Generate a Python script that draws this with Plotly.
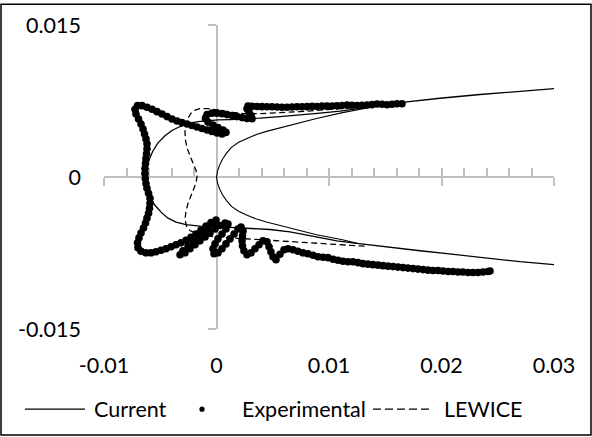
import plotly.graph_objects as go

# ---------------------------------------------------------------
# Ice-shape profiles, coordinates in millimetres (plotted in metres)
# ---------------------------------------------------------------

# "Current" prediction: iced contour, upper trailing end -> leading edge -> lower trailing end
current_mm = [
    (30.00, 8.72), (26.98, 8.47), (23.42, 8.14), (19.87, 7.77), (17.47, 7.52),
    (16.31, 7.33), (14.53, 7.04), (12.76, 6.74), (10.98, 6.50), (9.20, 6.30),
    (7.42, 6.11), (5.64, 5.96), (3.87, 5.81), (2.53, 5.72), (1.20, 5.67),
    (0.13, 5.64), (-0.76, 5.59), (-1.64, 5.47), (-2.44, 5.28), (-3.24, 4.98),
    (-3.96, 4.59), (-4.58, 4.06), (-5.20, 3.37), (-5.64, 2.59), (-5.96, 1.81),
    (-6.18, 1.12), (-6.31, 0.54), (-6.36, -0.05), (-6.31, -0.64), (-6.18, -1.32),
    (-5.91, -2.00), (-5.47, -2.79), (-4.93, -3.47), (-4.31, -4.06), (-3.60, -4.45),
    (-2.71, -4.69), (-1.47, -4.84), (-0.13, -4.89), (1.82, -4.98), (3.42, -5.08),
    (4.76, -5.18), (6.53, -5.42), (7.69, -5.67), (9.20, -6.01), (10.71, -6.30),
    (12.49, -6.55), (14.53, -6.84), (18.09, -7.28), (20.49, -7.57), (23.42, -7.96),
    (26.98, -8.36), (30.00, -8.65),
]

# Clean leading edge drawn with the same line style
clean_mm = [
    (14.67, 7.08), (12.89, 6.74), (11.20, 6.35), (8.89, 5.77), (7.11, 5.28),
    (5.60, 4.84), (4.44, 4.50), (3.56, 4.20), (2.67, 3.81), (1.96, 3.42),
    (1.33, 2.93), (0.89, 2.35), (0.53, 1.76), (0.27, 1.17), (0.09, 0.59),
    (0.00, 0.00),
    (0.09, -0.59), (0.27, -1.17), (0.53, -1.75), (0.89, -2.33), (1.33, -2.90),
    (1.96, -3.37), (2.67, -3.75), (3.56, -4.15), (4.44, -4.45), (5.60, -4.78),
    (7.11, -5.20), (8.89, -5.70), (11.20, -6.20), (12.49, -6.55),
]

# Measured ice tracing
experimental_mm = [
    # upper surface
    (16.49, 7.23), (16.04, 7.23), (15.60, 7.18), (15.16, 7.13), (14.71, 7.18),
    (14.27, 7.20), (13.82, 7.14), (13.38, 7.10), (12.93, 7.08), (12.49, 7.05),
    (12.04, 7.08), (11.60, 7.10), (11.16, 7.05), (10.71, 7.02), (10.27, 7.00),
    (9.82, 6.99), (9.38, 6.99), (8.93, 6.96), (8.49, 6.97), (8.04, 6.94),
    (7.60, 6.93), (7.16, 6.93), (6.71, 6.91), (6.27, 6.89), (5.82, 6.89),
    (5.38, 6.91), (4.93, 6.93), (4.49, 6.93), (4.04, 6.94), (3.60, 6.96),
    (3.16, 6.97), (2.80, 6.99),
    # upper feather
    (2.71, 6.73), (2.89, 6.40), (3.07, 6.06), (3.16, 5.75), (2.71, 5.77),
    (2.27, 5.86), (1.82, 5.96), (1.38, 6.06), (0.93, 6.16), (0.49, 6.25),
    (0.04, 6.30), (-0.40, 6.30), (-0.84, 6.16), (-0.98, 5.81), (-0.76, 5.42),
    (-0.31, 5.13), (0.13, 4.89), (0.58, 4.64), (0.84, 4.40), (0.49, 4.25),
    (0.04, 4.35), (-0.40, 4.50), (-0.84, 4.64), (-1.29, 4.79), (-1.73, 4.93),
    (-2.18, 5.08), (-2.62, 5.23), (-3.07, 5.37), (-3.51, 5.52), (-3.96, 5.72),
    (-4.40, 5.96), (-4.84, 6.21), (-5.29, 6.45), (-5.73, 6.69), (-6.18, 6.89),
    (-6.62, 7.04), (-7.02, 7.04),
    # upper horn and leading edge
    (-7.24, 6.69), (-7.16, 6.21), (-6.93, 5.72), (-6.71, 5.23), (-6.53, 4.74),
    (-6.40, 4.25), (-6.27, 3.76), (-6.18, 3.27), (-6.18, 2.79), (-6.22, 2.30),
    (-6.27, 1.81), (-6.31, 1.32), (-6.36, 0.83), (-6.36, 0.34), (-6.33, -0.15),
    (-6.27, -0.64), (-6.18, -1.12), (-6.04, -1.61), (-5.91, -2.10), (-5.91, -2.59),
    (-5.96, -3.08), (-6.04, -3.57), (-6.18, -4.06), (-6.31, -4.54), (-6.49, -5.03),
    (-6.71, -5.52), (-6.89, -6.01), (-7.02, -6.50), (-6.98, -6.99), (-6.71, -7.33),
    # lower horn and feathers
    (-6.27, -7.48), (-5.82, -7.48), (-5.38, -7.38), (-4.93, -7.23), (-4.49, -7.08),
    (-4.04, -6.89), (-3.60, -6.69), (-3.16, -6.50), (-2.71, -6.25), (-2.27, -5.96),
    (-1.82, -5.62), (-1.38, -5.23), (-0.93, -4.84), (-0.49, -4.50), (-0.04, -4.25),
    (-0.31, -4.64), (-0.76, -5.08), (-1.20, -5.52), (-1.64, -5.96), (-2.09, -6.40),
    (-2.53, -6.84), (-2.98, -7.28), (-3.24, -7.67), (-2.80, -7.48), (-2.36, -7.08),
    (-1.91, -6.69), (-1.47, -6.30), (-1.02, -5.91), (-0.58, -5.52), (-0.13, -5.13),
    (0.31, -4.79), (0.76, -4.54), (1.02, -4.64), (0.84, -5.13), (0.49, -5.62),
    (0.13, -6.11), (-0.13, -6.60), (-0.31, -7.08), (-0.22, -7.57), (0.13, -7.48),
    (0.49, -7.08), (0.84, -6.60), (1.20, -6.11), (1.56, -5.62), (1.91, -5.13),
    (2.18, -4.93), (2.36, -5.33), (2.31, -5.81), (2.27, -6.30), (2.31, -6.79),
    (2.44, -7.28), (2.71, -7.67), (3.07, -7.48), (3.42, -7.08), (3.78, -6.69),
    (4.13, -6.30), (4.49, -6.40), (4.67, -6.89), (4.84, -7.38), (5.02, -7.87),
    (5.29, -8.16), (5.64, -7.62), (6.00, -7.18), (6.36, -7.08), (6.80, -7.18),
    # lower surface
    (7.24, -7.33), (7.69, -7.48), (8.13, -7.57), (8.58, -7.72), (9.02, -7.87),
    (9.47, -7.92), (9.91, -7.96), (10.36, -8.11), (10.80, -8.21), (11.24, -8.31),
    (11.69, -8.36), (12.13, -8.36), (12.58, -8.45), (13.02, -8.55), (13.47, -8.60),
    (13.91, -8.65), (14.36, -8.70), (14.80, -8.75), (15.24, -8.80), (15.69, -8.84),
    (16.13, -8.89), (16.58, -8.94), (17.02, -8.99), (17.47, -9.04), (17.91, -9.09),
    (18.36, -9.14), (18.80, -9.19), (19.24, -9.23), (19.69, -9.23), (20.13, -9.28),
    (20.58, -9.33), (21.02, -9.33), (21.47, -9.38), (21.91, -9.38), (22.36, -9.43),
    (22.80, -9.43), (23.24, -9.43), (23.69, -9.38), (24.13, -9.33), (24.31, -9.28),
]

# LEWICE prediction
lewice_mm = [
    (14.53, 7.04), (12.76, 6.89), (11.24, 6.74), (9.20, 6.60), (7.42, 6.45),
    (5.64, 6.35), (3.87, 6.25), (2.53, 6.25), (1.20, 6.40), (0.13, 6.60),
    (-0.76, 6.74), (-1.47, 6.74), (-1.91, 6.60), (-2.27, 6.30), (-2.53, 5.81),
    (-2.71, 5.23), (-2.80, 4.45), (-2.76, 3.66), (-2.62, 2.88), (-2.36, 2.10),
    (-2.04, 1.32), (-1.82, 0.64), (-1.73, 0.05), (-1.82, -0.54), (-2.04, -1.22),
    (-2.31, -1.91), (-2.53, -2.59), (-2.71, -3.37), (-2.80, -4.15), (-2.67, -4.84),
    (-2.36, -5.28), (-1.82, -5.57), (-1.02, -5.77), (-0.13, -5.91), (1.20, -6.01),
    (2.98, -6.11), (4.76, -6.21), (6.53, -6.35), (8.31, -6.50), (10.09, -6.65),
    (11.87, -6.74), (13.38, -6.84),
]

series_names = ["Current", "Experimental", "LEWICE"]
x_tick_vals = [-0.01, 0, 0.01, 0.02, 0.03]
x_tick_text = ["-0.01", "0", "0.01", "0.02", "0.03"]
y_tick_vals = [-0.015, 0, 0.015]
y_tick_text = ["-0.015", "0", "0.015"]


def to_metres(points):
    xs = [p[0] / 1000.0 for p in points]
    ys = [p[1] / 1000.0 for p in points]
    return xs, ys


# ---------------------------------------------------------------
# Figure geometry
# ---------------------------------------------------------------
W, H = 592, 437
ML, MR, MT, MB = 104, 38, 22, 108
PW, PH = W - ML - MR, H - MT - MB


def fx(px):
    return (px - ML) / PW


def fy(py):
    return (H - MB - py) / PH


FONT = dict(family="Lato, 'Open Sans', sans-serif", size=21.5, color="#000000")
AXIS_GREY = "#BFBFBF"
X_RANGE = [-0.01, 0.03]
Y_RANGE = [-0.015, 0.015]

fig = go.Figure()

cx, cy = to_metres(current_mm)
fig.add_trace(go.Scatter(x=cx, y=cy, mode="lines", name=series_names[0],
                         line=dict(color="black", width=1.3), showlegend=False,
                         hoverinfo="skip"))
kx, ky = to_metres(clean_mm)
fig.add_trace(go.Scatter(x=kx, y=ky, mode="lines", name="clean",
                         line=dict(color="black", width=1.1), showlegend=False,
                         hoverinfo="skip"))
ex, ey = to_metres(experimental_mm)
fig.add_trace(go.Scatter(x=ex, y=ey, mode="markers", name=series_names[1],
                         marker=dict(color="black", size=7.6, line=dict(width=0)),
                         showlegend=False, hoverinfo="skip"))
lx, ly = to_metres(lewice_mm)
fig.add_trace(go.Scatter(x=lx, y=ly, mode="lines", name=series_names[2],
                         line=dict(color="black", width=1.3, dash="6px,3.5px"),
                         showlegend=False, hoverinfo="skip"))

# empty traces so the crossing axes get their own subplots
fig.add_trace(go.Scatter(x=[None], y=[None], xaxis="x2", yaxis="y", showlegend=False, hoverinfo="skip"))
fig.add_trace(go.Scatter(x=[None], y=[None], xaxis="x3", yaxis="y", showlegend=False, hoverinfo="skip"))
fig.add_trace(go.Scatter(x=[None], y=[None], xaxis="x", yaxis="y2", showlegend=False, hoverinfo="skip"))

plain = dict(showgrid=False, zeroline=False, showline=False)

fig.update_layout(
    width=W, height=H,
    margin=dict(l=ML, r=MR, t=MT, b=MB, pad=0),
    paper_bgcolor="white", plot_bgcolor="white",
    font=FONT,
    showlegend=False,
    # tick labels sit at the low edges
    xaxis=dict(range=X_RANGE, tickvals=x_tick_vals, ticktext=x_tick_text, ticks="",
               ticklabelstandoff=21, tickfont=FONT, fixedrange=True, **plain),
    yaxis=dict(range=Y_RANGE, tickvals=y_tick_vals, ticktext=y_tick_text, ticks="",
               ticklabelstandoff=22, tickfont=FONT, fixedrange=True, **plain),
    # horizontal axis line through y = 0, ticks above
    xaxis2=dict(range=X_RANGE, overlaying="x", anchor="free", position=0.5, side="bottom",
                showline=True, linecolor=AXIS_GREY, linewidth=2,
                tickmode="linear", tick0=0, dtick=0.01, ticks="inside", ticklen=8,
                tickwidth=2, tickcolor=AXIS_GREY, showticklabels=False,
                minor=dict(dtick=0.002, tick0=0, ticks="inside", ticklen=8, tickwidth=2,
                           tickcolor=AXIS_GREY),
                layer="below traces", showgrid=False, zeroline=False, fixedrange=True),
    # lower half of the major ticks
    xaxis3=dict(range=X_RANGE, overlaying="x", anchor="free", position=0.5, side="bottom",
                showline=False, tickmode="linear", tick0=0, dtick=0.01, ticks="outside",
                ticklen=8, tickwidth=2, tickcolor=AXIS_GREY, showticklabels=False,
                layer="below traces", showgrid=False, zeroline=False, fixedrange=True),
    # vertical axis line through x = 0
    yaxis2=dict(range=Y_RANGE, overlaying="y", anchor="free", position=0.25, side="left",
                showline=True, linecolor=AXIS_GREY, linewidth=2,
                tickmode="linear", tick0=0, dtick=0.015, ticks="outside", ticklen=8,
                tickwidth=2, tickcolor=AXIS_GREY, showticklabels=False,
                layer="below traces", showgrid=False, zeroline=False, fixedrange=True),
)

# ---------------------------------------------------------------
# Legend row and chart border
# ---------------------------------------------------------------
LEG_Y = 410
shapes = [
    dict(type="rect", xref="paper", yref="paper", x0=fx(1), x1=fx(591), y0=fy(436), y1=fy(1),
         line=dict(color="#000000", width=1.5), fillcolor="rgba(0,0,0,0)", layer="above"),
    dict(type="line", xref="paper", yref="paper", x0=fx(25), x1=fx(85), y0=fy(LEG_Y), y1=fy(LEG_Y),
         line=dict(color="black", width=1.3)),
    dict(type="circle", xref="paper", yref="paper", xsizemode="pixel", ysizemode="pixel",
         xanchor=fx(202), yanchor=fy(LEG_Y), x0=-2.6, x1=2.6, y0=-2.6, y1=2.6,
         fillcolor="black", line=dict(width=0)),
    dict(type="line", xref="paper", yref="paper", x0=fx(373), x1=fx(432), y0=fy(LEG_Y), y1=fy(LEG_Y),
         line=dict(color="black", width=1.3, dash="8px,4px")),
]
annotations = [
    dict(text=series_names[0], x=fx(92), y=fy(LEG_Y)),
    dict(text=series_names[1], x=fx(240), y=fy(LEG_Y)),
    dict(text=series_names[2], x=fx(442), y=fy(LEG_Y)),
]
for a in annotations:
    a.update(xref="paper", yref="paper", xanchor="left", yanchor="middle",
             showarrow=False, font=FONT)

fig.update_layout(shapes=shapes, annotations=annotations)

fig.write_html("out.html")
